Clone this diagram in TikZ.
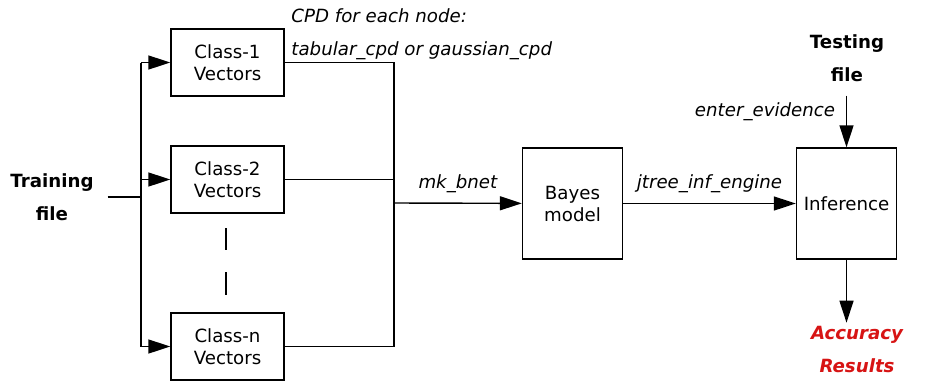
\documentclass[tikz,border=0pt]{standalone}
\usepackage{fontspec}
\setmainfont{DejaVu Sans}
\usepackage{tikz}
\usetikzlibrary{arrows.meta,positioning}
\definecolor{accred}{RGB}{215,20,20}

\begin{document}
\begin{tikzpicture}[
  x=0.5pt, y=-0.5pt,
  every node/.style={font=\fontsize{9.1}{11}\selectfont, align=center},
  box/.style={draw, line width=0.7pt, minimum width=56.5pt, minimum height=33.5pt, inner sep=1pt},
  bigbox/.style={box, minimum width=50pt, minimum height=55.5pt},
  title/.style={font=\fontsize{9.1}{16.5}\selectfont\bfseries},
  func/.style={font=\fontsize{9.1}{16.5}\selectfont\itshape},
  link/.style={draw, line width=0.7pt},
  flow/.style={link, -{Triangle[length=11pt,width=7pt]}}
]
\useasboundingbox (0,0) rectangle (946,381);

% input side
\node[title] (train) at (52,197) {Training\\file};
\node[box] (c1) at (227.5,62.5) {Class-1\\Vectors};
\node[box] (c2) at (227.5,179.5) {Class-2\\Vectors};
\node[box] (cn) at (227.5,346.5) {Class-n\\Vectors};
\coordinate (split) at (141,197);
\coordinate (merge) at (394,203);

% model and inference
\node[bigbox] (bayes) at (572.5,203.5) {Bayes\\model};
\node[bigbox] (infer) at (846.5,203.5) {Inference};
\node[title] (test) at (847,58) {Testing\\file};
\node[title, text=accred, font=\fontsize{9.1}{16.5}\selectfont\bfseries\itshape] (result) at (857,349) {Accuracy\\Results};
\node[func, align=left, anchor=north west, inner sep=0pt] (cpd) at (291,8) {CPD for each node:\\tabular\_cpd or gaussian\_cpd};

% connectors
\draw[link, shorten <=3.5pt] (train.east) -- (split);
\draw[link] (split |- c1) -- (split |- cn);
\foreach \n in {c1,c2,cn}
  \draw[flow] (split |- \n) -- (\n);
\draw[link] (c1.east) -- (c1.east -| merge) -- (cn.east -| merge) -- (cn.east);
\draw[link] (c2.east) -- (c2.east -| merge);
\draw[link] (226,228) -- (226,250);
\draw[link] (226,272) -- (226,295);
\draw[flow] (merge) -- node[func, above, yshift=1.5pt] {mk\_bnet} (bayes);
\draw[flow] (bayes) -- node[func, above, yshift=1.5pt] {jtree\_inf\_engine} (infer);
\draw[flow, shorten <=3.5pt] (test.south -| infer) -- node[func, pos=0.3, left, yshift=-3pt, xshift=-2pt] {enter\_evidence} (infer);
\draw[flow, shorten >=-2pt] (infer.south) -- (infer.south |- result.north);
\end{tikzpicture}
\end{document}
